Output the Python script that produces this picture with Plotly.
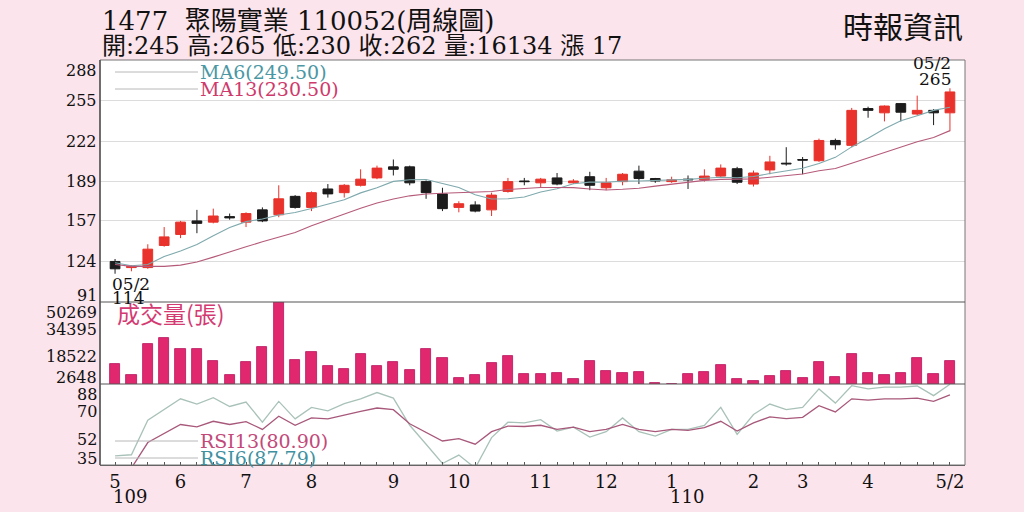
import plotly.graph_objects as go
import pandas as pd

# ---------------- data ----------------
weeks = list(range(52))
opens = [124, 119, 119, 137, 146, 157, 156, 160.5, 156, 166, 162, 177, 168, 183, 180, 186, 192, 201, 201, 189,
         179, 168, 170, 166, 181, 189.5, 188, 192, 188, 193, 184, 189, 197.5, 191.5, 189, 191, 190.5, 193.5, 199.5, 187,
         198.5, 204, 207, 206, 222.5, 218.5, 248.5, 245, 252.5, 244, 247, 245]
highs = [126, 121, 138, 152, 157, 166, 167, 163, 164, 168, 186, 178, 181, 187, 187, 199, 202, 207, 202, 190,
         184, 173, 173, 180, 192, 192, 192, 196, 191, 197, 192, 196, 202, 192, 193, 194, 199, 203, 201, 198,
         210, 217, 209, 224, 224, 249, 250, 251, 253, 259, 248, 265]
lows = [114, 116, 118, 136, 143, 147, 155, 158, 152, 156, 160, 167, 165, 176, 176, 185, 191, 194, 186, 175,
        165, 164, 164, 161, 180, 186, 184, 186, 187, 182, 182, 186, 187, 188, 188, 183, 189, 192, 187, 185,
        195, 202, 195, 205, 215, 217, 241, 238, 238, 243, 235, 230]
closes = [118, 120, 134, 144, 156, 155, 161, 159.5, 163, 157, 175, 168, 180, 179, 186, 191, 200, 199, 188, 180,
          167, 171, 165, 178, 189, 189, 191, 187, 189.5, 186, 188, 195, 191.5, 189.5, 190.5, 190.5, 193.5, 200, 188.5, 196,
          205, 203.5, 206.5, 222.5, 219, 247, 247, 250.5, 245.5, 247, 245, 262]
volumes = [14400, 7700, 26000, 29400, 23000, 22900, 16300, 7700, 15600, 24300, 50269, 16800, 21000, 13300, 11400,
           20200, 13300, 15200, 11000, 23000, 17700, 6000, 8000, 14800, 19100, 8500, 8600, 9000, 5500, 16000,
           10200, 9000, 9400, 3200, 2600, 8300, 9600, 13700, 5700, 4400, 7500, 10000, 6100, 15300, 6700, 20100,
           9000, 8000, 9200, 17800, 8600, 16134]
rsi6 = [41.0, 41.7, 64.3, 71.2, 78.3, 74.9, 79.0, 73.3, 76.2, 63.0, 76.6, 65.2, 72.7, 70.4, 75.1, 78.3, 82.4, 78.8,
        61.0, 48.6, 36.0, 41.5, 33.0, 52.9, 63.0, 62.6, 64.7, 57.2, 59.8, 53.3, 56.8, 65.8, 56.8, 53.9, 58.3, 58.3,
        60.9, 72.7, 55.0, 68.0, 74.9, 71.2, 72.7, 84.8, 75.5, 86.9, 84.8, 85.9, 85.9, 86.7, 80.4, 87.79]
rsi13 = [30.0, 33.0, 49.7, 55.5, 61.5, 60.0, 63.6, 61.5, 63.4, 58.3, 66.9, 61.0, 65.8, 65.2, 67.8, 70.1, 72.3, 71.2,
         62.0, 56.1, 50.7, 52.3, 48.6, 56.8, 60.4, 60.2, 61.0, 58.3, 59.8, 56.8, 58.3, 61.5, 58.3, 56.8, 58.3, 57.6,
         59.4, 63.6, 57.2, 62.6, 66.5, 65.4, 66.2, 73.8, 69.7, 78.3, 77.5, 78.3, 78.3, 78.8, 76.6, 80.90]
# moving-average values before enough weeks exist
ma6_head = [123, 120.5, 121.5, 128, 132.5]
ma13_head = [121.5, 120, 120, 120, 121, 123.5, 127.5, 132, 136, 140, 143.5, 147.5]

month_idx = [0, 4, 8, 12, 17, 21, 26, 30, 34, 39, 42, 46, 51]
month_lbl = ["5", "6", "7", "8", "9", "10", "11", "12", "1", "2", "3", "4", "5/2"]
year_idx = [0, 34]
year_lbl = ["109", "110"]
price_ticks = [288, 255, 222, 189, 157, 124, 91]
vol_ticks = [50269, 34395, 18522, 2648]
rsi_ticks = [88, 70, 52, 35]
stock_title = "1477  聚陽實業 110052(周線圖)"
source_lbl = "時報資訊"
last_date = "05/2"
first_date = "05/2"

# ---------------- derived ----------------
s = pd.Series(closes, dtype=float)
ma6 = s.rolling(6).mean().tolist()
ma13 = s.rolling(13).mean().tolist()
ma6[:len(ma6_head)] = ma6_head
ma13[:len(ma13_head)] = ma13_head

FONT = "DejaVu Serif, Noto Sans CJK TC, serif"
CJK = "Noto Sans CJK TC, DejaVu Serif, sans-serif"
RED = "#e8322b"
BLK = "#1c1c1c"

fig = go.Figure()
fig.add_trace(go.Candlestick(
    x=weeks, open=opens, high=highs, low=lows, close=closes,
    increasing=dict(line=dict(color=RED, width=1), fillcolor=RED),
    decreasing=dict(line=dict(color=BLK, width=1), fillcolor=BLK),
    xaxis="x", yaxis="y", showlegend=False))
fig.add_trace(go.Scatter(x=weeks, y=ma6, mode="lines", line=dict(color="#7fa9ad", width=1.1),
                         xaxis="x", yaxis="y", showlegend=False))
fig.add_trace(go.Scatter(x=weeks, y=ma13, mode="lines", line=dict(color="#b55a7a", width=1.1),
                         xaxis="x", yaxis="y", showlegend=False))
fig.add_trace(go.Bar(x=weeks, y=volumes, width=0.62, marker=dict(color="#e1286f", line=dict(color="#b8135a", width=0.8)),
                     xaxis="x", yaxis="y2", showlegend=False))
fig.add_trace(go.Scatter(x=weeks, y=rsi6, mode="lines", line=dict(color="#a9c2b8", width=1.3),
                         xaxis="x", yaxis="y3", showlegend=False))
fig.add_trace(go.Scatter(x=weeks, y=rsi13, mode="lines", line=dict(color="#a8587a", width=1.3),
                         xaxis="x", yaxis="y3", showlegend=False))

tickvals = weeks
ticktext = [""] * len(weeks)
for i, t in zip(month_idx, month_lbl):
    ticktext[i] = t

P_DOM = [0.4025, 1.0]
V_DOM = [0.2, 0.4025]
R_DOM = [0.0, 0.2]

fig.update_layout(
    width=1024, height=512,
    margin=dict(l=100, r=59, t=60, b=47),
    paper_bgcolor="#fce4ec", plot_bgcolor="white",
    bargap=0,
    boxgap=0.15,
    xaxis=dict(domain=[0, 1], anchor="y3", range=[-0.92, 51.92], tickmode="array", tickvals=tickvals,
               ticktext=ticktext, ticks="inside", ticklen=3, tickcolor="#555", showline=True,
               linecolor="#555", linewidth=1, showgrid=False, zeroline=False,
               tickfont=dict(family=FONT, size=18, color="#111"),
               rangeslider=dict(visible=False)),
    yaxis=dict(domain=P_DOM, range=[price_ticks[-1], price_ticks[0]], tickmode="array",
               tickvals=price_ticks[1:-1], showticklabels=False, showgrid=True, gridcolor="#dcdcdc",
               gridwidth=1, zeroline=False, ticks=""),
    yaxis2=dict(domain=V_DOM, range=[vol_ticks[-1], vol_ticks[0]], showticklabels=False, showgrid=False,
                zeroline=False, anchor="x"),
    yaxis3=dict(domain=R_DOM, range=[rsi_ticks[-1], rsi_ticks[0]], showticklabels=False, showgrid=False,
                zeroline=False, anchor="x"),
)

shapes = [
    dict(type="rect", xref="paper", yref="paper", x0=0, x1=1, y0=0, y1=1, line=dict(color="#777", width=1)),
    dict(type="line", xref="paper", yref="paper", x0=0, x1=0, y0=0, y1=1, line=dict(color="#555", width=1.5)),
    dict(type="line", xref="paper", yref="paper", x0=0, x1=1, y0=V_DOM[1], y1=V_DOM[1], line=dict(color="#555", width=1.2)),
    dict(type="line", xref="paper", yref="paper", x0=0, x1=1, y0=R_DOM[1], y1=R_DOM[1], line=dict(color="#555", width=1.2)),
]

annotations = []

def axis_labels(vals, yref):
    for k, v in enumerate(vals):
        if k == 0:
            anchor, ys = "top", 0
        elif k == len(vals) - 1:
            anchor, ys = "bottom", -4
        else:
            anchor, ys = "middle", 0
        annotations.append(dict(xref="paper", yref=yref, x=0, y=v, xanchor="right", yanchor=anchor,
                                xshift=-2, yshift=ys, text=str(v), showarrow=False, borderpad=0,
                                font=dict(family=FONT, size=16, color="#111")))

axis_labels(price_ticks, "y")
axis_labels(vol_ticks, "y2")
axis_labels(rsi_ticks, "y3")

for i, t in zip(year_idx, year_lbl):
    annotations.append(dict(xref="x", yref="paper", x=i, y=0, xanchor="left", yanchor="top", xshift=-4,
                            yshift=-19, text=t, showarrow=False, font=dict(family=FONT, size=18, color="#111")))

# high / low markers
imax = max(range(len(highs)), key=lambda i: highs[i])
imin = min(range(len(lows)), key=lambda i: lows[i])
MK = dict(family=FONT, size=17, color="#111")
annotations.append(dict(xref="x", yref="y", x=imax, y=highs[imax], xanchor="right", yanchor="middle", xshift=3,
                        yshift=9, text=f"{highs[imax]:g}", showarrow=False, font=MK))
annotations.append(dict(xref="x", yref="y", x=imax, y=highs[imax], xanchor="right", yanchor="middle", xshift=3,
                        yshift=25, text=last_date, showarrow=False, font=MK))
annotations.append(dict(xref="x", yref="y", x=imin, y=lows[imin], xanchor="left", yanchor="middle", xshift=-5,
                        yshift=-10, text=first_date, showarrow=False, font=MK))
annotations.append(dict(xref="x", yref="y", x=imin, y=lows[imin], xanchor="left", yanchor="middle", xshift=-5,
                        yshift=-24, text=f"{lows[imin]:g}", showarrow=False, font=MK))

# header
chg = closes[-1] - closes[-2]
annotations.append(dict(xref="paper", yref="paper", x=0, y=(465 - 21) / 405, xanchor="left", yanchor="middle",
                        text=stock_title, showarrow=False, font=dict(family=FONT, size=26, color="#111")))
annotations.append(dict(xref="paper", yref="paper", x=0, y=(465 - 46) / 405, xanchor="left", yanchor="middle",
                        text=f"開:{opens[-1]:g} 高:{highs[-1]:g} 低:{lows[-1]:g} 收:{closes[-1]:g} 量:{volumes[-1]} 漲 {chg:g}",
                        showarrow=False, font=dict(family=FONT, size=24, color="#111")))
annotations.append(dict(xref="paper", yref="paper", x=1.0, y=(465 - 25) / 405, xanchor="right", yanchor="middle",
                        text=source_lbl, showarrow=False, font=dict(family=CJK, size=30, color="#111")))

# legends
def legend(text, ypx, color, line=True):
    yp = (465 - ypx) / 405
    if line:
        shapes.append(dict(type="line", xref="paper", yref="paper", x0=0.0173, x1=0.1133, y0=yp, y1=yp,
                           line=dict(color="#b8b8b8", width=1)))
    annotations.append(dict(xref="paper", yref="paper", x=0.1133 if line else 0.0173, y=yp, xanchor="left",
                            yanchor="middle", text=text, showarrow=False,
                            font=dict(family=FONT, size=19, color=color)))

legend(f"MA6({ma6[-1]:.2f})", 72, "#4b97a3")
legend(f"MA13({ma13[-1]:.2f})", 89, "#cf3a6c")
legend(f"RSI13({rsi13[-1]:.2f})", 441, "#c2497a")
legend(f"RSI6({rsi6[-1]:.2f})", 458, "#3f919f")
annotations.append(dict(xref="paper", yref="paper", x=0.0173, y=(465 - 313) / 405, xanchor="left",
                        yanchor="middle", text="成交量(張)", showarrow=False,
                        font=dict(family=CJK, size=23, color="#d43a72")))

fig.update_layout(shapes=shapes, annotations=annotations)
fig.write_html("out.html", config={"displayModeBar": False},
               post_script="document.body.style.margin='0';")
